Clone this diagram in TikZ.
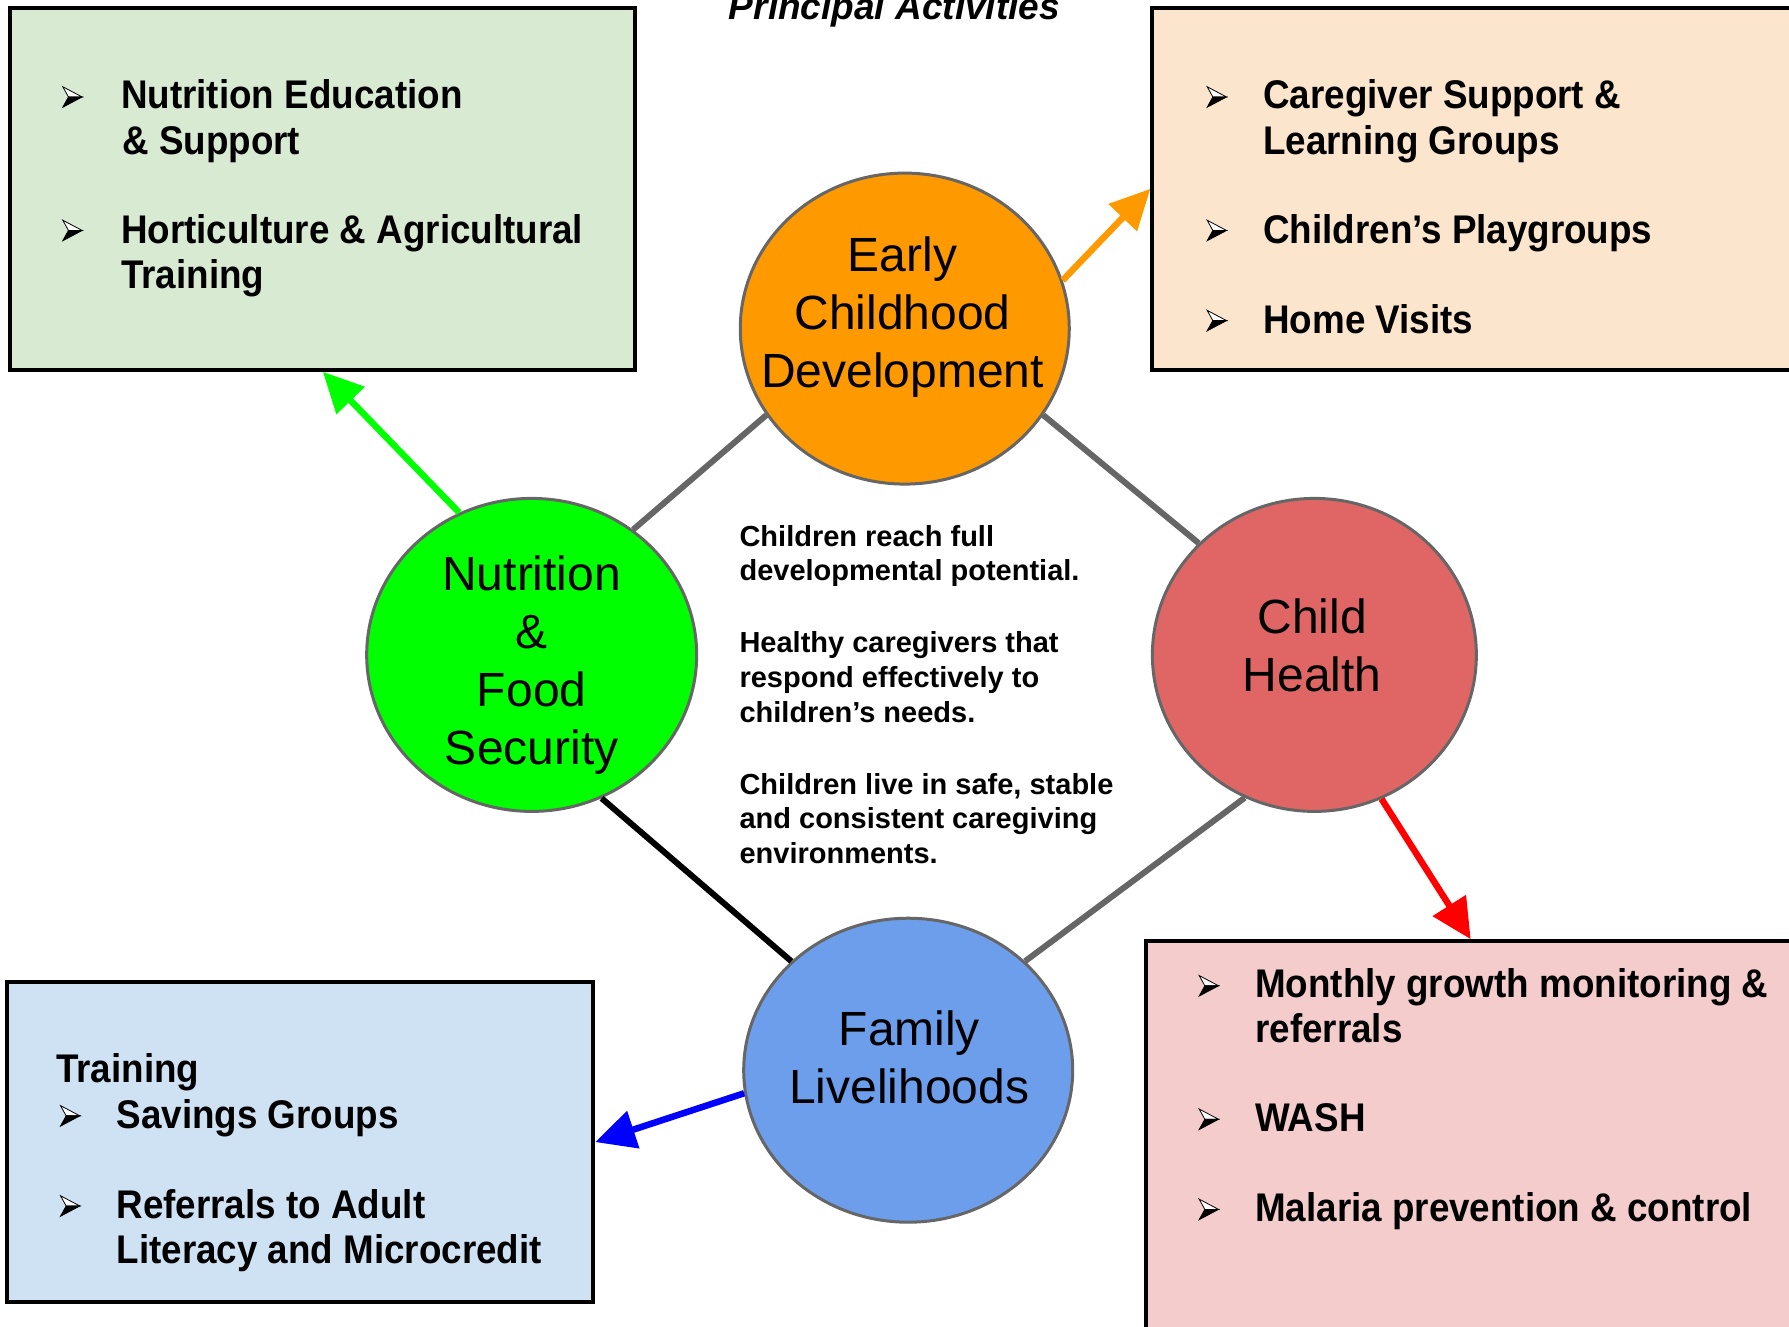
\documentclass[tikz,border=0pt]{standalone}
\usepackage{fontspec}
\setmainfont{Liberation Sans}
\newfontfamily\boxfont[FakeStretch=0.92]{Liberation Sans}
\usetikzlibrary{shapes.geometric,arrows.meta}

\definecolor{greenbox}{HTML}{D9EAD3}
\definecolor{orangebox}{HTML}{FCE5CD}
\definecolor{bluebox}{HTML}{CFE2F3}
\definecolor{pinkbox}{HTML}{F4CCCC}
\definecolor{ecdfill}{HTML}{FF9900}
\definecolor{nutfill}{HTML}{00FF00}
\definecolor{chfill}{HTML}{E06666}
\definecolor{famfill}{HTML}{6D9EEB}
\definecolor{hubline}{HTML}{666666}

\begin{document}
\begin{tikzpicture}[x=1.141pt,y=-1.141pt,
  box/.style={draw=black,line width=4pt,rectangle,inner sep=0pt},
  hub/.style={ellipse,draw=hubline,line width=3pt,inner sep=0pt,
    minimum width=329pt,minimum height=311pt},
  hubtext/.style={font=\fontsize{48}{58}\selectfont,align=center,inner sep=0pt},
  item/.style={font=\boxfont\bfseries\fontsize{40}{46}\selectfont,anchor=base west,inner sep=0pt},
  note/.style={font=\bfseries\fontsize{29}{35}\selectfont,anchor=base west,inner sep=0pt},
  link/.style={draw=hubline,line width=6pt},
  feed/.style={line width=6.5pt,-{Triangle[length=40pt,width=38pt]}},
  bul/.pic={
    \filldraw[fill=white,draw=black,line width=0.8pt] (-8,-9) -- (9,0) -- (-3,0) -- cycle;
    \filldraw[fill=black,draw=black,line width=0.8pt] (-8,9) -- (9,0) -- (-3,0) -- cycle;
  }
]
\path[use as bounding box] (0,0) rectangle (1568,1163);
\clip (0,0) rectangle (1568,1163);

% activity boxes
\node[box,fill=greenbox,minimum width=625pt,minimum height=362pt] (gbox) at (283,165.5) {};
\node[box,fill=orangebox,minimum width=643.5pt,minimum height=362pt] (obox) at (1292,165.5) {};
\node[box,fill=bluebox,minimum width=586.5pt,minimum height=319.5pt] (bbox) at (263,1001) {};
\node[box,fill=pinkbox,minimum width=650pt,minimum height=428pt] (pbox) at (1289,1012.5) {};

% title
\node[font=\bfseries\itshape\fontsize{37}{40}\selectfont,anchor=base,inner sep=0pt] (title) at (784,17.5) {Principal Activities};

% the four hubs
\node[hub,fill=ecdfill] (ecd) at (793,288) {};
\node[hub,fill=nutfill,minimum width=330pt,minimum height=313pt] (nut) at (466,574) {};
\node[hub,fill=chfill,minimum width=324pt,minimum height=313pt] (ch) at (1152,574) {};
\node[hub,fill=famfill,minimum height=304pt] (fam) at (796,938) {};

% links between hubs
\draw[link] (nut.51) -- (ecd.212);
\draw[link] (ecd.328) -- (ch.136);
\draw[link,draw=black] (nut.296) -- (fam.137);
\draw[link] (fam.43) -- (ch.244);

% hubs to their activities
\draw[feed,draw=ecdfill] (ecd.17) -- (obox.west);
\draw[feed,draw=nutfill] (nut.117) -- (gbox.south);
\draw[feed,draw=red] (ch.295) -- (pbox.north);
\draw[feed,draw=blue] (fam.188) -- (bbox.east);

% hub labels
\node[hubtext] (ecdt) at (791,278) {Early\\Childhood\\Development};
\node[hubtext] (nutt) at (466,583) {Nutrition\\\&\\Food\\Security};
\node[hubtext] (cht) at (1150,566) {Child\\Health};
\node[hubtext] (famt) at (797,927) {Family\\Livelihoods};

% outcomes
\node[note] (n1) at (648,479) {Children reach full};
\node[note] (n2) at (648,509) {developmental potential.};
\node[note] (n3) at (648,572) {Healthy caregivers that};
\node[note] (n4) at (648,603) {respond effectively to};
\node[note] (n5) at (648,633) {children’s needs.};
\node[note] (n6) at (648,696) {Children live in safe, stable};
\node[note] (n7) at (648,726) {and consistent caregiving};
\node[note] (n8) at (648,757) {environments.};

% nutrition & food security activities
\pic at (63,85) {bul};
\pic at (63,202) {bul};
\node[item] (g1) at (106,95) {Nutrition Education};
\node[item] (g2) at (107,135) {\& Support};
\node[item] (g3) at (106,213) {Horticulture \& Agricultural};
\node[item] (g4) at (106,253) {Training};

% early childhood development activities
\pic at (1066,85) {bul};
\pic at (1066,202) {bul};
\pic at (1066,281) {bul};
\node[item] (o1) at (1107,95) {Caregiver Support \&};
\node[item] (o2) at (1107,135) {Learning Groups};
\node[item] (o3) at (1107,213) {Children’s Playgroups};
\node[item] (o4) at (1107,292) {Home Visits};

% family livelihoods activities
\pic at (61,978) {bul};
\pic at (61,1057) {bul};
\node[item] (b0) at (49,949) {Training};
\node[item] (b1) at (102,989) {Savings Groups};
\node[item] (b2) at (102,1068) {Referrals to Adult};
\node[item] (b3) at (102,1107) {Literacy and Microcredit};

% child health activities
\pic at (1059,864) {bul};
\pic at (1059,981) {bul};
\pic at (1059,1060) {bul};
\node[item] (p1) at (1100,874) {Monthly growth monitoring \&};
\node[item] (p2) at (1100,914) {referrals};
\node[item] (p3) at (1100,992) {WASH};
\node[item] (p4) at (1100,1071) {Malaria prevention \& control};
\end{tikzpicture}
\end{document}
